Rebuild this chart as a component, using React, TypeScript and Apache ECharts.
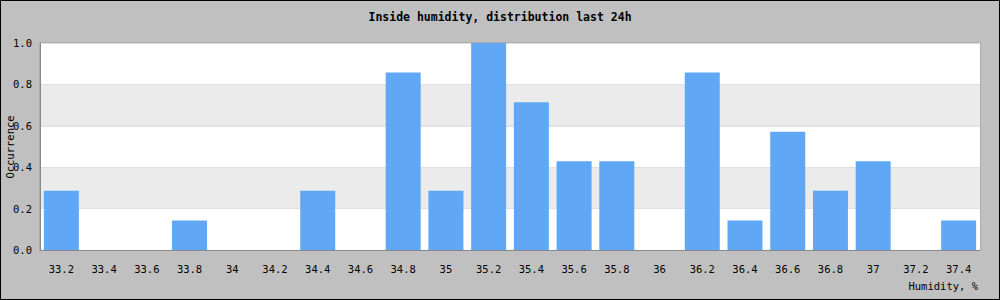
import React, { useEffect, useRef } from "react";
import * as echarts from "echarts";

const title = "Inside humidity, distribution last 24h";
const yAxisName = "Occurrence";
const xAxisName = "Humidity, %";
const categories = ["33.2","33.4","33.6","33.8","34","34.2","34.4","34.6","34.8","35","35.2","35.4","35.6","35.8","36","36.2","36.4","36.6","36.8","37","37.2","37.4"];
const occurrence = [0.286,0,0,0.143,0,0,0.286,0,0.857,0.286,1.0,0.714,0.429,0.429,0,0.857,0.143,0.571,0.286,0.429,0,0.143];

const FONT = "'DejaVu Sans Mono', monospace";

export default function App() {
  const ref = useRef<HTMLDivElement>(null);
  useEffect(() => {
    document.body.style.margin = "0";
    const chart = echarts.init(ref.current!, null, { renderer: "svg" });
    chart.setOption({
      animation: false,
      backgroundColor: "#c0c0c0",
      title: {
        text: title,
        left: "center",
        top: 6,
        textStyle: { fontFamily: FONT, fontSize: 11.5, fontWeight: "bold", color: "#000" },
      },
      grid: {
        left: 40, top: 43, right: 20, bottom: 50,
        outerBoundsMode: "none",
        containLabel: false,
        show: true, borderColor: "#999", borderWidth: 1, backgroundColor: "transparent",
      },
      xAxis: {
        type: "category",
        data: categories,
        axisLine: { show: true, lineStyle: { color: "#888", width: 1 } },
        axisTick: { show: false },
        axisLabel: { interval: 0, margin: 13, fontFamily: FONT, fontSize: 10.5, color: "#000" },
        splitLine: { show: false },
      },
      yAxis: {
        type: "value",
        min: 0, max: 1, interval: 0.2,
        axisLine: { show: true, lineStyle: { color: "#888", width: 1 } },
        axisTick: { show: false },
        axisLabel: { margin: 8, fontFamily: FONT, fontSize: 10.5, color: "#000", formatter: (v: number) => v.toFixed(1) },
        splitLine: { show: true, lineStyle: { color: "#e0e0e0", width: 1 } },
        splitArea: { show: true, areaStyle: { color: ["#ffffff", "#ebebeb"] } },
      },
      series: [
        {
          type: "bar",
          data: occurrence,
          barWidth: 35,
          itemStyle: { color: "#60a8f5" },
        },
      ],
      graphic: [
        {
          type: "rect",
          shape: { x: 0.5, y: 0.5, width: 999, height: 299 },
          style: { fill: "none", stroke: "#000", lineWidth: 1 },
          silent: true,
        },
        {
          type: "text",
          x: 10,
          y: 147,
          rotation: Math.PI / 2,
          style: { text: yAxisName, fontFamily: FONT, fontSize: 10.5, fill: "#000", align: "center", verticalAlign: "middle" },
        },
        {
          type: "text",
          right: 22,
          top: 280,
          style: { text: xAxisName, fontFamily: FONT, fontSize: 10.5, fill: "#000" },
        },
      ],
    });
    return () => chart.dispose();
  }, []);
  return <div ref={ref} style={{ width: 1000, height: 300, position: "absolute", left: 0, top: 0 }} />;
}
